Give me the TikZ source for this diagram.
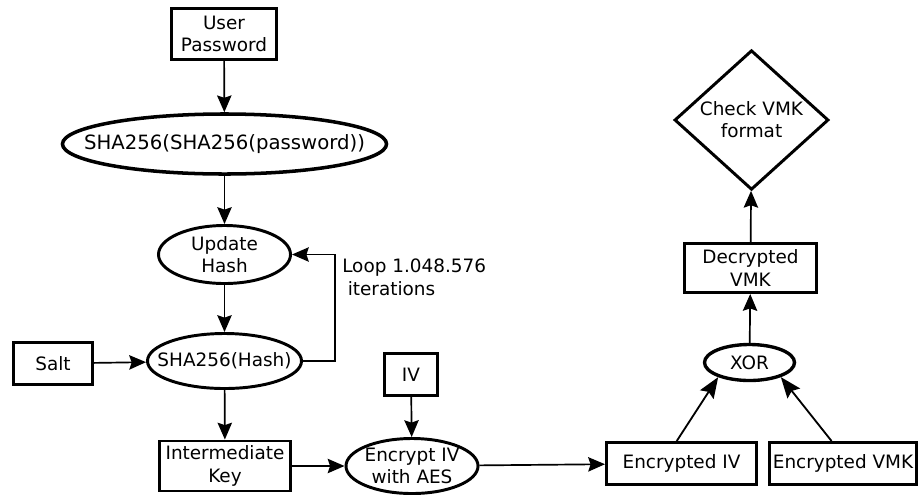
\documentclass[tikz,border=0pt]{standalone}
\usepackage{fontspec}
\setmainfont{DejaVu Sans}
\usetikzlibrary{shapes.geometric,arrows.meta}

\begin{document}
\begin{tikzpicture}[x=0.025cm, y=-0.025cm,
        every node/.style={font=\fontsize{13.1}{15.8}\selectfont, align=center, inner sep=0pt},
        box/.style={draw, rectangle, line width=2.1pt},
        oval/.style={draw, ellipse, line width=2.1pt},
        flow/.style={line width=1.2pt, -{Stealth[length=4.2mm,width=3.6mm,inset=0.6mm]}},
        bigflow/.style={line width=1.3pt, -{Stealth[length=5.2mm,width=4mm,inset=0.8mm]}}]
                \useasboundingbox (0,0) rectangle (919,495);
                % left column
                \node[box, minimum width=2.625cm, minimum height=1.275cm] (pwd) at (224,34) {User\\Password};
                \node[oval, line width=2.5pt, font=\fontsize{14}{15.8}\selectfont, inner xsep=-0.66cm, minimum width=8.1cm, minimum height=1.5cm] (dsha) at (224.5,144) {SHA256(SHA256(password))};
                \node[oval, inner xsep=0.3cm, minimum width=3.3cm, minimum height=1.45cm] (upd) at (224.5,254.5) {Update\\Hash};
                \node[oval, inner xsep=-0.32cm, minimum width=3.85cm, minimum height=1.375cm] (hash) at (224.5,361) {SHA256(Hash)};
                \node[box, minimum width=1.975cm, minimum height=1.05cm] (salt) at (53,363.5) {Salt};
                \node[box, minimum width=3.275cm, minimum height=1.25cm] (ikey) at (225,466) {Intermediate\\Key};
                \node[anchor=north west, align=left] (loop) at (342,259) {Loop 1.048.576\\\hspace*{0.3em}iterations};
                % middle
                \node[box, minimum width=1.325cm, minimum height=1.05cm] (iv) at (411,374.5) {IV};
                \node[oval, inner xsep=-0.03cm, minimum width=3.3cm, minimum height=1.375cm] (enciv) at (412,466) {Encrypt IV\\with AES};
                % right column
                \node[box, minimum width=3.75cm, minimum height=1.05cm] (eiv) at (681.5,463.5) {Encrypted IV};
                \node[box, minimum width=3.675cm, minimum height=1.05cm] (evmk) at (843,463.5) {Encrypted VMK};
                \node[oval, line width=2.4pt, minimum width=2.25cm, minimum height=0.9cm] (xor) at (749.5,362.5) {XOR};
                \node[box, minimum width=3.3cm, minimum height=1.225cm] (dvmk) at (750.5,268) {Decrypted\\VMK};
                \node[draw, diamond, line width=2.1pt, minimum width=3.85cm, minimum height=3.425cm] (chk) at (751.5,120) {Check VMK\\format};

                \draw[flow] (pwd) -- (dsha);
                \draw[flow] (dsha) -- (upd);
                \draw[flow] (upd) -- (hash);
                \draw[flow] (hash.east) -- ++(32,0) |- (upd.east);
                \draw[flow] (salt) -- (hash);
                \draw[flow] (hash) -- (ikey);
                \draw[flow] (ikey) -- (enciv);
                \draw[flow] (iv) -- (enciv);
                \draw[flow] (enciv) -- (eiv);
                \draw[bigflow] (eiv.102) -- (xor.205);
                \draw[bigflow] (evmk.117) -- (xor.-25);
                \draw[flow] (xor) -- (dvmk);
                \draw[flow] (dvmk) -- (chk);
\end{tikzpicture}
\end{document}
